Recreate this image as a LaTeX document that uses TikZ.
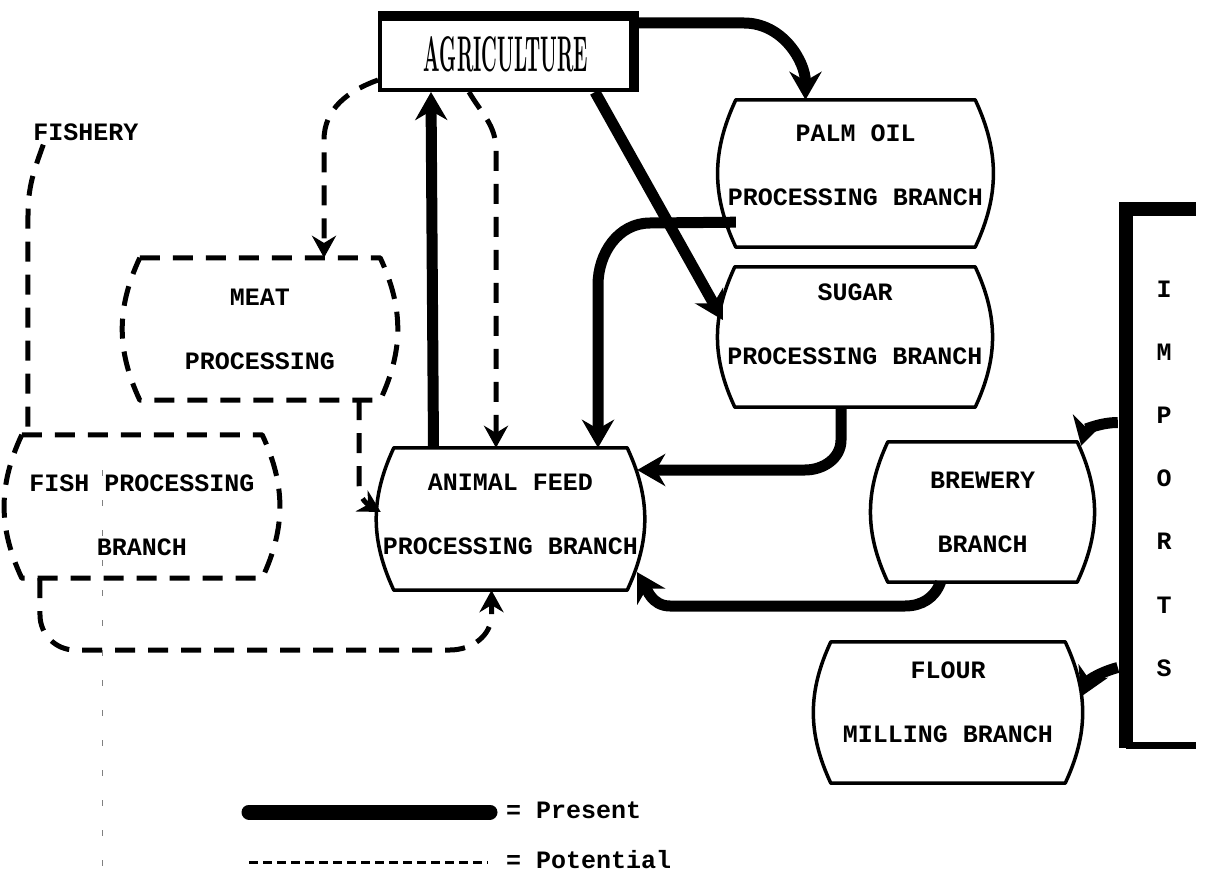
\documentclass[tikz,border=0pt]{standalone}
\usepackage{fontspec}
\usepackage{graphicx}
\usetikzlibrary{arrows.meta,calc}
\newfontfamily\dotfont{Liberation Mono}
\newcommand{\ctr}[1]{\makebox[0pt]{#1}}
\newcommand{\lift}[1]{\rule[-#1]{0pt}{#1}}
\newcommand{\barrel}[2][]{%
  \draw[outline,#1] (#2.north west) -- (#2.north east) to[bend left=25] (#2.south east)
     -- (#2.south west) to[bend left=25] cycle;}

\begin{document}
\begin{tikzpicture}[x=1pt,y=-1pt,
  present/.style={line width=11pt,line join=round},
  potential/.style={line width=5pt,dash pattern=on 20pt off 13pt,line join=round},
  bigtip/.style={-{Stealth[length=28pt,width=32pt]}},
  smalltip/.style={-{Stealth[length=22pt,width=24pt]}},
  outline/.style={line width=3.5pt,line join=round},
  branch/.style={inner sep=0pt,minimum width=#1,align=center,
    font=\dotfont\bfseries\fontsize{25}{64}\selectfont},
  legend/.style={anchor=west,inner sep=0pt,font=\dotfont\bfseries\fontsize{25}{30}\selectfont}]
   \useasboundingbox (0,0) rectangle (1210,874);

   % boxes
   \node[draw,line width=4pt,minimum width=252pt,minimum height=72pt,inner sep=0pt]
        (agri) at (506,54) {\resizebox{164pt}{35pt}{\bfseries AGRICULTURE}};
   \draw[line width=10pt] (agri.north west) -- (agri.north east) -- (agri.south east);
   \node[branch=239pt,minimum height=147pt] (palm)  at (855.5,173.5) {\ctr{PALM OIL}\\\ctr{PROCESSING BRANCH}\lift{17pt}};
   \node[branch=240pt,minimum height=140pt] (sugar) at (855,337)     {\ctr{SUGAR}\\\ctr{PROCESSING BRANCH}\lift{26pt}};
   \node[branch=233pt,minimum height=142pt] (feed)  at (510.5,519)   {\ctr{ANIMAL FEED}\\\ctr{PROCESSING BRANCH}\lift{10pt}};
   \node[branch=240pt,minimum height=142pt] (meat)  at (260,329)     {\ctr{MEAT}\\\ctr{PROCESSING}};
   \node[branch=240pt,minimum height=143pt] (fish)  at (142,506.5)   {\rule{0pt}{34pt}\ctr{FISH PROCESSING}\\\ctr{BRANCH}};
   \node[branch=189pt,minimum height=140pt] (brew)  at (982.5,512)   {\ctr{BREWERY}\\\ctr{BRANCH}};
   \node[branch=234pt,minimum height=141pt] (flour) at (948,712.5)   {\ctr{FLOUR}\\\ctr{MILLING BRANCH}\lift{20pt}};
   \node[branch=76pt,minimum height=539pt,font=\dotfont\bfseries\fontsize{25}{63.2}\selectfont]
        (imports) at (1164,478.5) {I\\M\\P\\O\\R\\T\\S};
   \node[legend,anchor=center] (fishery) at (86,132) {FISHERY};

   \barrel{palm}
   \barrel{sugar}
   \barrel{feed}
   \barrel{brew}
   \barrel{flour}
   \barrel[potential]{meat}
   \barrel[potential]{fish}
   \draw[line width=14pt] ([xshift=70pt]imports.north west) -- (imports.north west) -- (imports.south west);
   \draw[line width=7pt] ([yshift=3pt]imports.south west) -- ([xshift=70pt,yshift=3pt]imports.south west);

   % present links
   \draw[present,bigtip] ([yshift=-7pt]agri.north east) -- ++(110,0) to[out=0,in=90] ([xshift=-50pt]palm.north);
   \draw[present,bigtip] ([xshift=-39pt]agri.south east) -- ([xshift=-12pt,yshift=17pt]sugar.west);
   \draw[present,bigtip] ([xshift=-77pt]feed.north) -- ([xshift=-75pt]agri.south);
   \draw[present,bigtip] ([yshift=25pt]palm.south west) -- (650,223) to[out=180,in=90] (598,285)
        -- ([xshift=87.5pt]feed.north);
   \draw[present,bigtip] ([xshift=-14pt]sugar.south) -- (841,440) to[out=-90,in=0] (805,470)
        -- ([xshift=10pt,yshift=49pt]feed.east);
   \draw[present,bigtip] ([xshift=-42pt]brew.south) to[out=-110,in=0] (905,606) -- (670,606)
        to[out=180,in=-60] ([xshift=10pt,yshift=18pt]feed.south east);
   \draw[present,bigtip] ([xshift=-8pt,yshift=56pt]imports.west) to[out=180,in=75] ([xshift=4pt,yshift=-4pt]brew.north east);
   \draw[present,bigtip] ([xshift=-8pt,yshift=-189pt]imports.west) to[out=195,in=65] ([xshift=16pt,yshift=16pt]flour.east);

   % potential links
   \draw[potential,smalltip] ([yshift=12pt]agri.south west) to[out=200,in=90] (324,140) -- ([xshift=64pt]meat.north);
   \draw[potential,smalltip] ([xshift=-37pt]agri.south) to[out=-60,in=90] (496,150) -- ([xshift=-14.5pt]feed.north);
   \draw[potential,smalltip] ([xshift=99pt]meat.south) -- (359,486) to[out=-90,in=150] ([xshift=-13pt,yshift=7pt]feed.west);
   \draw[potential] ([xshift=10pt,yshift=-4pt]fishery.south west) to[out=-110,in=90] (28,215) -- ([xshift=6pt]fish.north west);
   \draw[potential,smalltip] ([xshift=18pt]fish.south west) -- (40,615) to[out=-90,in=180] (75,650) -- (450,650)
        to[out=0,in=-90] (491.5,615) -- ([xshift=-19pt]feed.south);

   % stray rule
   \coordinate (rtop) at (102,470);
   \coordinate (rbot) at (102,874);
   \draw[line width=1pt,gray,dash pattern=on 6pt off 24pt] (rtop) -- (rbot);

   % legend
   \coordinate (p1) at (249,812);
   \coordinate (p2) at (490,812);
   \coordinate (q1) at (249,862);
   \coordinate (q2) at (488,862);
   \draw[line width=15pt,line cap=round] (p1) -- (p2);
   \draw[line width=3pt,dash pattern=on 9pt off 5pt] (q1) -- (q2);
   \node[legend] (present) at (506,810) {= Present};
   \node[legend] (potential) at (506,860) {= Potential};
\end{tikzpicture}
\end{document}
